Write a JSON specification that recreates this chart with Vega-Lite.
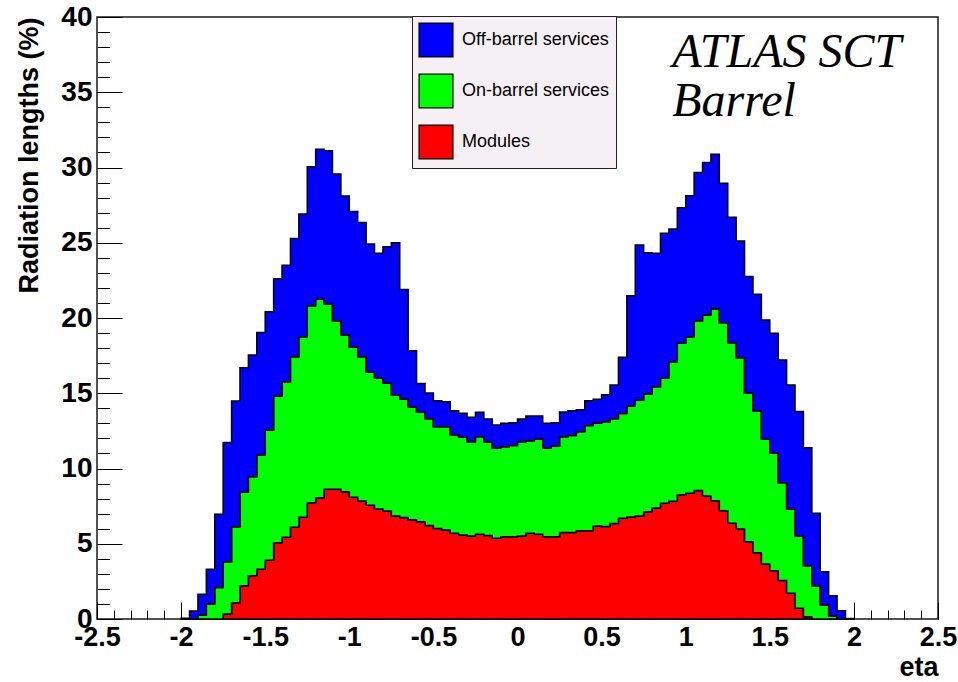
{
  "$schema": "https://vega.github.io/schema/vega-lite/v6.json",
  "width": 841,
  "height": 602,
  "autosize": {"type": "none"},
  "padding": {"left": 97, "top": 17, "right": 20, "bottom": 63},
  "background": "white",
  "config": {"view": {"stroke": "#1a1a1a", "strokeWidth": 1.5}, "font": "Liberation Sans"},
  "datasets": {
    "stackorder": [
      {"series": "Modules", "rank": 1},
      {"series": "On-barrel services", "rank": 2},
      {"series": "Off-barrel services", "rank": 3}
    ],
    "hist": [
      {"eta":-2,"series":"Modules","value":0},{"eta":-2,"series":"On-barrel services","value":0},{"eta":-2,"series":"Off-barrel services","value":0.05},
      {"eta":-1.95,"series":"Modules","value":0},{"eta":-1.95,"series":"On-barrel services","value":0},{"eta":-1.95,"series":"Off-barrel services","value":0.53},
      {"eta":-1.9,"series":"Modules","value":0},{"eta":-1.9,"series":"On-barrel services","value":0.25},{"eta":-1.9,"series":"Off-barrel services","value":1.39},
      {"eta":-1.85,"series":"Modules","value":0},{"eta":-1.85,"series":"On-barrel services","value":1.0},{"eta":-1.85,"series":"Off-barrel services","value":2.3},
      {"eta":-1.8,"series":"Modules","value":0},{"eta":-1.8,"series":"On-barrel services","value":2.1},{"eta":-1.8,"series":"Off-barrel services","value":4.86},
      {"eta":-1.75,"series":"Modules","value":0.33},{"eta":-1.75,"series":"On-barrel services","value":3.47},{"eta":-1.75,"series":"Off-barrel services","value":7.92},
      {"eta":-1.7,"series":"Modules","value":1.08},{"eta":-1.7,"series":"On-barrel services","value":5.05},{"eta":-1.7,"series":"Off-barrel services","value":8.36},
      {"eta":-1.65,"series":"Modules","value":2.21},{"eta":-1.65,"series":"On-barrel services","value":6.21},{"eta":-1.65,"series":"Off-barrel services","value":8.28},
      {"eta":-1.6,"series":"Modules","value":2.87},{"eta":-1.6,"series":"On-barrel services","value":6.59},{"eta":-1.6,"series":"Off-barrel services","value":8.08},
      {"eta":-1.55,"series":"Modules","value":3.3},{"eta":-1.55,"series":"On-barrel services","value":7.6},{"eta":-1.55,"series":"Off-barrel services","value":8.13},
      {"eta":-1.5,"series":"Modules","value":3.9},{"eta":-1.5,"series":"On-barrel services","value":8.66},{"eta":-1.5,"series":"Off-barrel services","value":7.86},
      {"eta":-1.45,"series":"Modules","value":5.07},{"eta":-1.45,"series":"On-barrel services","value":9.75},{"eta":-1.45,"series":"Off-barrel services","value":7.79},
      {"eta":-1.4,"series":"Modules","value":5.43},{"eta":-1.4,"series":"On-barrel services","value":10.34},{"eta":-1.4,"series":"Off-barrel services","value":7.73},
      {"eta":-1.35,"series":"Modules","value":6.09},{"eta":-1.35,"series":"On-barrel services","value":11.34},{"eta":-1.35,"series":"Off-barrel services","value":7.86},
      {"eta":-1.3,"series":"Modules","value":6.76},{"eta":-1.3,"series":"On-barrel services","value":12.0},{"eta":-1.3,"series":"Off-barrel services","value":8.15},
      {"eta":-1.25,"series":"Modules","value":7.73},{"eta":-1.25,"series":"On-barrel services","value":13.09},{"eta":-1.25,"series":"Off-barrel services","value":9.23},
      {"eta":-1.2,"series":"Modules","value":8.06},{"eta":-1.2,"series":"On-barrel services","value":13.18},{"eta":-1.2,"series":"Off-barrel services","value":9.97},
      {"eta":-1.15,"series":"Modules","value":8.62},{"eta":-1.15,"series":"On-barrel services","value":12.31},{"eta":-1.15,"series":"Off-barrel services","value":10.19},
      {"eta":-1.1,"series":"Modules","value":8.62},{"eta":-1.1,"series":"On-barrel services","value":11.2},{"eta":-1.1,"series":"Off-barrel services","value":9.75},
      {"eta":-1.05,"series":"Modules","value":8.46},{"eta":-1.05,"series":"On-barrel services","value":10.41},{"eta":-1.05,"series":"Off-barrel services","value":9.24},
      {"eta":-1,"series":"Modules","value":8.09},{"eta":-1,"series":"On-barrel services","value":9.96},{"eta":-1,"series":"Off-barrel services","value":9.02},
      {"eta":-0.95,"series":"Modules","value":7.84},{"eta":-0.95,"series":"On-barrel services","value":9.59},{"eta":-0.95,"series":"Off-barrel services","value":8.91},
      {"eta":-0.9,"series":"Modules","value":7.55},{"eta":-0.9,"series":"On-barrel services","value":8.84},{"eta":-0.9,"series":"Off-barrel services","value":8.53},
      {"eta":-0.85,"series":"Modules","value":7.31},{"eta":-0.85,"series":"On-barrel services","value":8.68},{"eta":-0.85,"series":"Off-barrel services","value":8.31},
      {"eta":-0.8,"series":"Modules","value":7.18},{"eta":-0.8,"series":"On-barrel services","value":8.48},{"eta":-0.8,"series":"Off-barrel services","value":9.08},
      {"eta":-0.75,"series":"Modules","value":6.84},{"eta":-0.75,"series":"On-barrel services","value":8.04},{"eta":-0.75,"series":"Off-barrel services","value":10.12},
      {"eta":-0.7,"series":"Modules","value":6.75},{"eta":-0.7,"series":"On-barrel services","value":7.85},{"eta":-0.7,"series":"Off-barrel services","value":7.3},
      {"eta":-0.65,"series":"Modules","value":6.6},{"eta":-0.65,"series":"On-barrel services","value":7.49},{"eta":-0.65,"series":"Off-barrel services","value":3.74},
      {"eta":-0.6,"series":"Modules","value":6.47},{"eta":-0.6,"series":"On-barrel services","value":7.26},{"eta":-0.6,"series":"Off-barrel services","value":1.91},
      {"eta":-0.55,"series":"Modules","value":6.22},{"eta":-0.55,"series":"On-barrel services","value":7.08},{"eta":-0.55,"series":"Off-barrel services","value":1.72},
      {"eta":-0.5,"series":"Modules","value":6.02},{"eta":-0.5,"series":"On-barrel services","value":6.76},{"eta":-0.5,"series":"Off-barrel services","value":1.73},
      {"eta":-0.45,"series":"Modules","value":5.91},{"eta":-0.45,"series":"On-barrel services","value":6.87},{"eta":-0.45,"series":"Off-barrel services","value":1.66},
      {"eta":-0.4,"series":"Modules","value":5.69},{"eta":-0.4,"series":"On-barrel services","value":6.54},{"eta":-0.4,"series":"Off-barrel services","value":1.61},
      {"eta":-0.35,"series":"Modules","value":5.58},{"eta":-0.35,"series":"On-barrel services","value":6.49},{"eta":-0.35,"series":"Off-barrel services","value":1.6},
      {"eta":-0.3,"series":"Modules","value":5.51},{"eta":-0.3,"series":"On-barrel services","value":6.27},{"eta":-0.3,"series":"Off-barrel services","value":1.62},
      {"eta":-0.25,"series":"Modules","value":5.63},{"eta":-0.25,"series":"On-barrel services","value":6.48},{"eta":-0.25,"series":"Off-barrel services","value":1.62},
      {"eta":-0.2,"series":"Modules","value":5.54},{"eta":-0.2,"series":"On-barrel services","value":6.2},{"eta":-0.2,"series":"Off-barrel services","value":1.55},
      {"eta":-0.15,"series":"Modules","value":5.36},{"eta":-0.15,"series":"On-barrel services","value":5.98},{"eta":-0.15,"series":"Off-barrel services","value":1.55},
      {"eta":-0.1,"series":"Modules","value":5.47},{"eta":-0.1,"series":"On-barrel services","value":5.98},{"eta":-0.1,"series":"Off-barrel services","value":1.55},
      {"eta":-0.05,"series":"Modules","value":5.47},{"eta":-0.05,"series":"On-barrel services","value":6.05},{"eta":-0.05,"series":"Off-barrel services","value":1.52},
      {"eta":0,"series":"Modules","value":5.51},{"eta":0,"series":"On-barrel services","value":6.27},{"eta":0,"series":"Off-barrel services","value":1.51},
      {"eta":0.05,"series":"Modules","value":5.69},{"eta":0.05,"series":"On-barrel services","value":6.16},{"eta":0.05,"series":"Off-barrel services","value":1.64},
      {"eta":0.1,"series":"Modules","value":5.63},{"eta":0.1,"series":"On-barrel services","value":6.33},{"eta":0.1,"series":"Off-barrel services","value":1.53},
      {"eta":0.15,"series":"Modules","value":5.47},{"eta":0.15,"series":"On-barrel services","value":5.87},{"eta":0.15,"series":"Off-barrel services","value":1.66},
      {"eta":0.2,"series":"Modules","value":5.47},{"eta":0.2,"series":"On-barrel services","value":6.03},{"eta":0.2,"series":"Off-barrel services","value":1.54},
      {"eta":0.25,"series":"Modules","value":5.74},{"eta":0.25,"series":"On-barrel services","value":6.37},{"eta":0.25,"series":"Off-barrel services","value":1.64},
      {"eta":0.3,"series":"Modules","value":5.74},{"eta":0.3,"series":"On-barrel services","value":6.46},{"eta":0.3,"series":"Off-barrel services","value":1.64},
      {"eta":0.35,"series":"Modules","value":5.87},{"eta":0.35,"series":"On-barrel services","value":6.58},{"eta":0.35,"series":"Off-barrel services","value":1.45},
      {"eta":0.4,"series":"Modules","value":5.87},{"eta":0.4,"series":"On-barrel services","value":6.98},{"eta":0.4,"series":"Off-barrel services","value":1.66},
      {"eta":0.45,"series":"Modules","value":6.18},{"eta":0.45,"series":"On-barrel services","value":6.82},{"eta":0.45,"series":"Off-barrel services","value":1.6},
      {"eta":0.5,"series":"Modules","value":6.14},{"eta":0.5,"series":"On-barrel services","value":6.96},{"eta":0.5,"series":"Off-barrel services","value":1.8},
      {"eta":0.55,"series":"Modules","value":6.34},{"eta":0.55,"series":"On-barrel services","value":6.96},{"eta":0.55,"series":"Off-barrel services","value":2.25},
      {"eta":0.6,"series":"Modules","value":6.69},{"eta":0.6,"series":"On-barrel services","value":6.96},{"eta":0.6,"series":"Off-barrel services","value":3.74},
      {"eta":0.65,"series":"Modules","value":6.78},{"eta":0.65,"series":"On-barrel services","value":7.37},{"eta":0.65,"series":"Off-barrel services","value":7.33},
      {"eta":0.7,"series":"Modules","value":6.85},{"eta":0.7,"series":"On-barrel services","value":7.7},{"eta":0.7,"series":"Off-barrel services","value":10.3},
      {"eta":0.75,"series":"Modules","value":7.13},{"eta":0.75,"series":"On-barrel services","value":7.82},{"eta":0.75,"series":"Off-barrel services","value":9.39},
      {"eta":0.8,"series":"Modules","value":7.38},{"eta":0.8,"series":"On-barrel services","value":8.06},{"eta":0.8,"series":"Off-barrel services","value":8.86},
      {"eta":0.85,"series":"Modules","value":7.69},{"eta":0.85,"series":"On-barrel services","value":8.3},{"eta":0.85,"series":"Off-barrel services","value":9.64},
      {"eta":0.9,"series":"Modules","value":7.83},{"eta":0.9,"series":"On-barrel services","value":9.27},{"eta":0.9,"series":"Off-barrel services","value":8.81},
      {"eta":0.95,"series":"Modules","value":8.26},{"eta":0.95,"series":"On-barrel services","value":10.06},{"eta":0.95,"series":"Off-barrel services","value":9.01},
      {"eta":1,"series":"Modules","value":8.35},{"eta":1,"series":"On-barrel services","value":10.41},{"eta":1,"series":"Off-barrel services","value":9.37},
      {"eta":1.05,"series":"Modules","value":8.53},{"eta":1.05,"series":"On-barrel services","value":11.29},{"eta":1.05,"series":"Off-barrel services","value":9.84},
      {"eta":1.1,"series":"Modules","value":8.18},{"eta":1.1,"series":"On-barrel services","value":12.02},{"eta":1.1,"series":"Off-barrel services","value":10.14},
      {"eta":1.15,"series":"Modules","value":7.86},{"eta":1.15,"series":"On-barrel services","value":12.74},{"eta":1.15,"series":"Off-barrel services","value":10.28},
      {"eta":1.2,"series":"Modules","value":7.2},{"eta":1.2,"series":"On-barrel services","value":12.49},{"eta":1.2,"series":"Off-barrel services","value":9.26},
      {"eta":1.25,"series":"Modules","value":6.36},{"eta":1.25,"series":"On-barrel services","value":12.0},{"eta":1.25,"series":"Off-barrel services","value":8.33},
      {"eta":1.3,"series":"Modules","value":5.98},{"eta":1.3,"series":"On-barrel services","value":11.38},{"eta":1.3,"series":"Off-barrel services","value":7.76},
      {"eta":1.35,"series":"Modules","value":5.14},{"eta":1.35,"series":"On-barrel services","value":9.86},{"eta":1.35,"series":"Off-barrel services","value":7.75},
      {"eta":1.4,"series":"Modules","value":4.41},{"eta":1.4,"series":"On-barrel services","value":9.41},{"eta":1.4,"series":"Off-barrel services","value":7.75},
      {"eta":1.45,"series":"Modules","value":3.65},{"eta":1.45,"series":"On-barrel services","value":8.29},{"eta":1.45,"series":"Off-barrel services","value":7.93},
      {"eta":1.5,"series":"Modules","value":3.21},{"eta":1.5,"series":"On-barrel services","value":7.8},{"eta":1.5,"series":"Off-barrel services","value":7.97},
      {"eta":1.55,"series":"Modules","value":2.55},{"eta":1.55,"series":"On-barrel services","value":6.51},{"eta":1.55,"series":"Off-barrel services","value":8.15},
      {"eta":1.6,"series":"Modules","value":1.71},{"eta":1.6,"series":"On-barrel services","value":5.58},{"eta":1.6,"series":"Off-barrel services","value":8.26},
      {"eta":1.65,"series":"Modules","value":0.71},{"eta":1.65,"series":"On-barrel services","value":4.8},{"eta":1.65,"series":"Off-barrel services","value":8.27},
      {"eta":1.7,"series":"Modules","value":0.15},{"eta":1.7,"series":"On-barrel services","value":3.39},{"eta":1.7,"series":"Off-barrel services","value":7.84},
      {"eta":1.75,"series":"Modules","value":0},{"eta":1.75,"series":"On-barrel services","value":2.21},{"eta":1.75,"series":"Off-barrel services","value":4.81},
      {"eta":1.8,"series":"Modules","value":0},{"eta":1.8,"series":"On-barrel services","value":0.93},{"eta":1.8,"series":"Off-barrel services","value":2.21},
      {"eta":1.85,"series":"Modules","value":0},{"eta":1.85,"series":"On-barrel services","value":0.2},{"eta":1.85,"series":"Off-barrel services","value":1.35},
      {"eta":1.9,"series":"Modules","value":0},{"eta":1.9,"series":"On-barrel services","value":0},{"eta":1.9,"series":"Off-barrel services","value":0.55},
      {"eta":1.95,"series":"Modules","value":0},{"eta":1.95,"series":"On-barrel services","value":0},{"eta":1.95,"series":"Off-barrel services","value":0.04},
      {"eta":2,"series":"Modules","value":0},{"eta":2,"series":"On-barrel services","value":0},{"eta":2,"series":"Off-barrel services","value":0}
    ]
  },
  "resolve": {"axis": {"x": "independent", "y": "independent"}},
  "layer": [
    {
      "data": {"name": "hist"},
      "transform": [
        {"lookup": "series", "from": {"data": {"name": "stackorder"}, "key": "series", "fields": ["rank"]}}
      ],
      "mark": {"type": "area", "interpolate": "step-after", "stroke": "black", "strokeWidth": 1.5, "opacity": 1},
      "encoding": {
        "x": {
          "field": "eta", "type": "quantitative",
          "scale": {"domain": [-2.5, 2.5], "nice": false, "zero": false},
          "axis": {
            "orient": "bottom",
            "values": [-2.5, -2, -1.5, -1, -0.5, 0, 0.5, 1, 1.5, 2, 2.5],
            "labelExpr": "'' + datum.value",
            "tickSize": -17, "tickColor": "black", "tickWidth": 1,
            "domain": false, "grid": false,
            "labelFont": "Liberation Sans", "labelFontWeight": "bold", "labelFontSize": 27, "labelColor": "black",
            "labelPadding": 22, "labelFlush": false, "labelOverlap": false, "labelBound": false,
            "title": "eta", "titleFont": "Liberation Sans", "titleFontWeight": "bold", "titleFontSize": 27, "titleColor": "black",
            "titleAnchor": "end", "titleAlign": "right", "titlePadding": 4
          }
        },
        "y": {
          "field": "value", "type": "quantitative", "stack": "zero",
          "scale": {"domain": [0, 40], "nice": false, "zero": true},
          "axis": {
            "orient": "left",
            "values": [0, 5, 10, 15, 20, 25, 30, 35, 40],
            "tickSize": -25, "tickColor": "black", "tickWidth": 1,
            "domain": false, "grid": false,
            "labelFont": "Liberation Sans", "labelFontWeight": "bold", "labelFontSize": 28, "labelColor": "black",
            "labelPadding": 30, "labelFlush": false, "labelOverlap": false, "labelBound": false,
            "title": "Radiation lengths (%)", "titleFont": "Liberation Sans", "titleFontWeight": "bold", "titleFontSize": 27, "titleColor": "black",
            "titleAnchor": "end", "titlePadding": 17
          }
        },
        "order": {"field": "rank", "type": "quantitative", "sort": "ascending"},
        "color": {
          "field": "series", "type": "nominal",
          "scale": {"domain": ["Off-barrel services", "On-barrel services", "Modules"], "range": ["#0000ff", "#00ff00", "#ff0000"]},
          "legend": {
            "title": null, "orient": "none", "legendX": 315, "legendY": -1, "direction": "vertical",
            "values": ["Off-barrel services", "On-barrel services", "Modules"],
            "symbolType": "square", "symbolSize": 1150, "symbolStrokeColor": "black", "symbolStrokeWidth": 1.2, "symbolOpacity": 1,
            "labelFont": "Liberation Sans", "labelFontSize": 18, "labelColor": "black", "labelOffset": 8, "labelLimit": 300,
            "rowPadding": 11, "padding": 6, "fillColor": "#f4f0f4", "strokeColor": "#222222"
          }
        }
      }
    },
    {
      "data": {"name": "hist"},
      "mark": {"type": "point", "opacity": 0},
      "encoding": {
        "x": {
          "field": "eta", "type": "quantitative",
          "scale": {"domain": [-2.5, 2.5], "nice": false, "zero": false},
          "axis": {
            "orient": "bottom",
            "values": [-2.5,-2.4,-2.3,-2.2,-2.1,-2,-1.9,-1.8,-1.7,-1.6,-1.5,-1.4,-1.3,-1.2,-1.1,-1,-0.9,-0.8,-0.7,-0.6,-0.5,-0.4,-0.3,-0.2,-0.1,0,0.1,0.2,0.3,0.4,0.5,0.6,0.7,0.8,0.9,1,1.1,1.2,1.3,1.4,1.5,1.6,1.7,1.8,1.9,2,2.1,2.2,2.3,2.4,2.5],
            "tickSize": -9, "tickColor": "black", "tickWidth": 1,
            "labels": false, "domain": false, "grid": false, "title": null
          }
        },
        "y": {
          "field": "value", "type": "quantitative",
          "scale": {"domain": [0, 40], "nice": false},
          "axis": {
            "orient": "left",
            "values": [0,1,2,3,4,5,6,7,8,9,10,11,12,13,14,15,16,17,18,19,20,21,22,23,24,25,26,27,28,29,30,31,32,33,34,35,36,37,38,39,40],
            "tickSize": -12.5, "tickColor": "black", "tickWidth": 1,
            "labels": false, "domain": false, "grid": false, "title": null
          }
        }
      }
    },
    {
      "data": {"values": [
        {"eta": 0.92, "value": 36.7, "text": "ATLAS SCT"},
        {"eta": 0.92, "value": 33.4, "text": "Barrel"}
      ]},
      "mark": {"type": "text", "font": "Liberation Serif", "fontStyle": "italic", "fontSize": 48, "align": "left", "baseline": "alphabetic", "color": "black"},
      "encoding": {
        "x": {"field": "eta", "type": "quantitative", "axis": null},
        "y": {"field": "value", "type": "quantitative", "axis": null},
        "text": {"field": "text"}
      }
    }
  ]
}
